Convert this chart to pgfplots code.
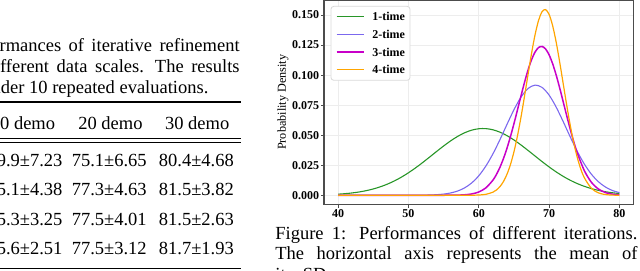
\documentclass[border=0pt]{standalone}
\usepackage{fontspec}
\setmainfont{Liberation Serif}
\usepackage{pgfplots}
\pgfplotsset{compat=1.18}
\definecolor{cG}{RGB}{40,150,40}
\definecolor{cB}{RGB}{123,104,238}
\definecolor{cM}{RGB}{200,0,200}
\definecolor{cO}{RGB}{255,165,0}
\newcommand{\capfont}{\fontsize{9.25}{10.5}\selectfont}
\newcommand{\tickfont}{\fontsize{6}{7}\selectfont\bfseries}
\begin{document}
\begin{tikzpicture}
% ---------- left: table fragment ----------
\node[anchor=base east, inner sep=0pt, font=\capfont] at (120pt,-25.75pt) {\spaceskip=3.7pt plus 0pt Performances of iterative refinement};
\node[anchor=base east, inner sep=0pt, font=\capfont] at (120pt,-36.25pt) {\spaceskip=3.8pt plus 0pt\xspaceskip=5.5pt plus 0pt different data scales. The results};
\node[anchor=base west, inner sep=0pt, font=\capfont] at (-9pt,-46.75pt) {under 10 repeated evaluations.};
\draw[line width=0.8pt] (-5pt,-50.85pt) -- (120.3pt,-50.85pt);
\node[anchor=base, inner sep=0pt, font=\capfont] at (11.5pt,-64.5pt) {10 demo};
\node[anchor=base, inner sep=0pt, font=\capfont] at (55.2pt,-64.5pt) {20 demo};
\node[anchor=base, inner sep=0pt, font=\capfont] at (98.6pt,-64.5pt) {30 demo};
\draw[line width=0.45pt] (-5pt,-69.15pt) -- (120.3pt,-69.15pt);
\draw[line width=0.45pt] (-5pt,-71.35pt) -- (120.3pt,-71.35pt);
\foreach \y/\a/\b/\c in {-83/59.9±7.23/75.1±6.65/80.4±4.68,-97.75/65.1±4.38/77.3±4.63/81.5±3.82,-112.5/65.3±3.25/77.5±4.01/81.5±2.63,-127.25/65.6±2.51/77.5±3.12/81.7±1.93}{
  \node[anchor=base, inner sep=0pt, font=\capfont] at (12.5pt,\y pt) {\a};
  \node[anchor=base, inner sep=0pt, font=\capfont] at (54.6pt,\y pt) {\b};
  \node[anchor=base, inner sep=0pt, font=\capfont] at (98.2pt,\y pt) {\c};
}
\draw[line width=0.8pt] (-5pt,-134.15pt) -- (120.3pt,-134.15pt);
% ---------- right: chart ----------
\begin{axis}[
  at={(162pt,0pt)}, anchor=north west,
  scale only axis, width=154.75pt, height=102.25pt,
  xmin=38, xmax=82, ymin=-0.0077, ymax=0.1625,
  xtick={40,50,60,70,80}, xticklabels={40,50,60,70,80},
  ytick={0,0.025,0.05,0.075,0.1,0.125,0.15},
  yticklabels={0.000,0.025,0.050,0.075,0.100,0.125,0.150},
  /pgf/number format/assume math mode=true,
  tick label style={font=\tickfont, text=black},
  yticklabel style={inner sep=0.8pt},
  xticklabel style={inner sep=0.8pt},
  grid=major, major grid style={draw=black!7, line width=0.5pt},
  axis line style={draw=black!70, line width=0.65pt},
  tick style={draw=black!70, line width=0.5pt},
  tick align=outside, tick pos=left, major tick length=1.5pt,
  ylabel={Probability Density},
  every axis y label/.style={at={(rel axis cs:-0.1325,0.5)}, rotate=90, anchor=center, font=\fontsize{6.1}{7}\selectfont},
  legend style={at={(0.021,0.971)}, anchor=north west, draw=black!15, rounded corners=1.5pt, fill=white,
    font=\tickfont, inner xsep=2.5pt, inner ysep=2.8pt, row sep=3.8pt, column sep=4pt,
    nodes={inner sep=0pt, text height=4.5pt, text depth=0.5pt}},
  legend cell align=left,
  legend image code/.code={\draw[#1] (0pt,0pt) -- (13.5pt,0pt);},
]
\addplot[cG, line width=0.55pt, smooth] coordinates {
(40,0.000906) (41,0.001338) (42,0.001938) (43,0.002754) (44,0.003837) (45,0.005245)
(46,0.007029) (47,0.009241) (48,0.011911) (49,0.015065) (50,0.018684) (51,0.022727)
(52,0.027114) (53,0.031731) (54,0.036414) (55,0.040989) (56,0.045251) (57,0.048997)
(58,0.052034) (59,0.054197) (60,0.055367) (61,0.055474) (62,0.054514) (63,0.052541)
(64,0.049667) (65,0.046048) (66,0.041872) (67,0.037344) (68,0.032667) (69,0.028026)
(70,0.023582) (71,0.019460) (72,0.015752) (73,0.012505) (74,0.009737) (75,0.007436)
(76,0.005570) (77,0.004090) (78,0.002947) (79,0.002083) (80,0.001443)};
\addlegendentry{1-time}
\addplot[cB, line width=0.55pt, smooth] coordinates {
(40,0) (45,0) (50,0.000016) (52,0.000097) (53,0.000222) (54,0.000480) (55,0.000984)
(56,0.001916) (57,0.003536) (58,0.006192) (59,0.010284) (60,0.016202) (61,0.024208)
(62,0.034310) (63,0.046124) (64,0.058819) (65,0.071146) (66,0.081623) (67,0.088824)
(68,0.091686) (69,0.089768) (70,0.083366) (71,0.073436) (72,0.061358) (73,0.048629)
(74,0.036556) (75,0.026065) (76,0.017629) (77,0.011311) (78,0.006881) (79,0.003972)
(80,0.002175)};
\addlegendentry{2-time}
\addplot[cM, line width=0.75pt, smooth] coordinates {
(40,0) (50,0) (55,0.000011) (56,0.000041) (57,0.000134) (58,0.000403) (59,0.001097)
(60,0.002718) (61,0.006108) (62,0.012471) (62.5,0.017189) (63,0.023121) (63.5,0.030362)
(64,0.038919) (64.5,0.048706) (65,0.059497) (65.5,0.070949) (66,0.082586) (66.5,0.093841)
(67,0.104095) (67.5,0.112716) (68,0.119144) (68.5,0.122937) (69,0.123830) (69.5,0.121758)
(70,0.116868) (70.5,0.109503) (71,0.100158) (71.5,0.089424) (72,0.077942) (72.5,0.066316)
(73,0.055080) (73.5,0.044656) (74,0.035343) (75,0.020592) (76,0.010896) (77,0.005236)
(78,0.002284) (79,0.000905) (80,0.000325)};
\addlegendentry{3-time}
\addplot[cO, line width=0.6pt, smooth] coordinates {
(40,0) (50,0) (55,0) (58,0.000009) (59,0.000046) (60,0.000203) (61,0.000772) (62,0.002528)
(62.5,0.004329) (63,0.007130) (63.5,0.011317) (64,0.017299) (64.5,0.025470) (65,0.036115)
(65.5,0.049329) (66,0.064891) (66.5,0.082215) (67,0.100321) (67.5,0.117901) (68,0.133461)
(68.5,0.145503) (69,0.152783) (69.5,0.154514) (70,0.150505) (70.5,0.141195) (71,0.127579)
(71.5,0.111028) (72,0.093061) (72.5,0.075127) (73,0.058413) (73.5,0.043744) (74,0.031551)
(74.5,0.021917) (75,0.014664) (76,0.005866) (77,0.002019) (78,0.000598) (79,0.000152)
(80,0.000033)};
\addlegendentry{4-time}
\end{axis}
% ---------- right: caption ----------
\node[anchor=base west, inner sep=0pt, font=\capfont] at (137.5pt,-119.75pt) {\makebox[181pt][s]{Figure 1: Performances of different iterations.}};
\node[anchor=base west, inner sep=0pt, font=\capfont] at (137.5pt,-129.75pt) {\makebox[181pt][s]{The horizontal axis represents the mean of}};
\node[anchor=base west, inner sep=0pt, font=\capfont] at (137.5pt,-140.25pt) {\spaceskip=5pt plus 0pt its SD.};
\pgfresetboundingbox
\path[use as bounding box] (0pt,0pt) rectangle (320pt,-135pt);
\end{tikzpicture}
\end{document}
